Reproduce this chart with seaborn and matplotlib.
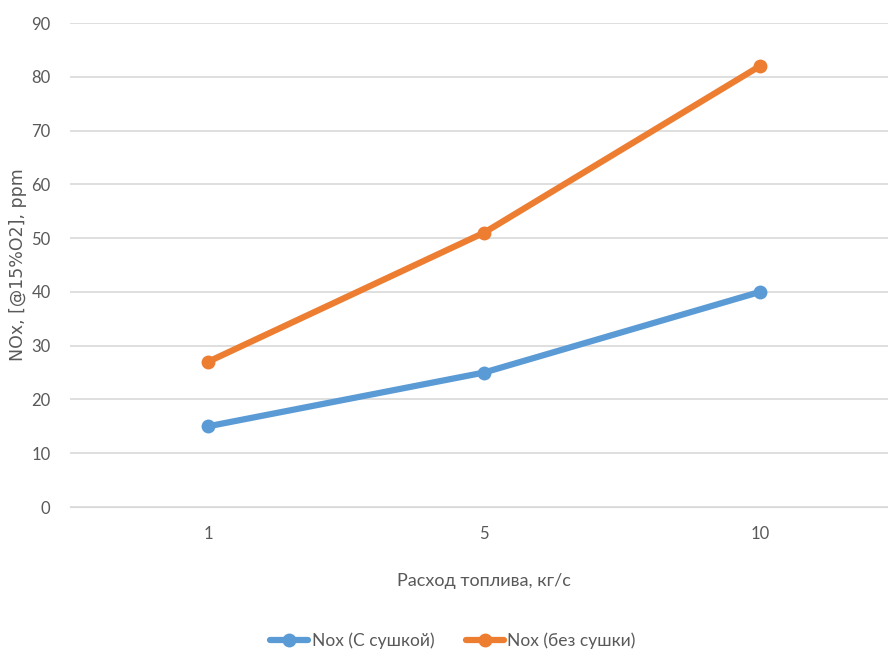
import pandas as pd
import matplotlib.pyplot as plt
import seaborn as sns

# Data
fuel_rate = ['1', '5', '10']
nox_dried = [15, 25, 40]
nox_wet = [27, 51, 82]
series_names = ['Nox (С сушкой)', 'Nox (без сушки)']

df = pd.DataFrame({
    'rate': fuel_rate * 2,
    'nox': nox_dried + nox_wet,
    'series': [series_names[0]] * 3 + [series_names[1]] * 3,
})

sns.set_style('white')
plt.rcParams['font.family'] = ['Lato', 'DejaVu Sans']
text_color = '#595959'

fig = plt.figure(figsize=(8.88, 6.53), dpi=100)
ax = fig.add_axes([70 / 888, 146 / 653, 828 / 888, 484 / 653])

palette = {series_names[0]: '#5B9BD5', series_names[1]: '#ED7D31'}
sns.lineplot(data=df, x='rate', y='nox', hue='series', palette=palette,
             marker='o', markersize=10, markeredgewidth=0, linewidth=4.5,
             sort=False, ax=ax)

ax.set_xlim(-0.5, 2.5)
ax.set_ylim(0, 90)
ax.set_yticks(range(0, 91, 10))
ax.yaxis.grid(True, color='#D9D9D9', linewidth=1.2)
ax.set_axisbelow(True)
for s in ax.spines.values():
    s.set_visible(False)
ax.spines['bottom'].set_visible(True)
ax.spines['bottom'].set_color('#D9D9D9')
ax.tick_params(axis='both', length=0, labelsize=12, labelcolor=text_color)
ax.tick_params(axis='y', pad=14)
ax.tick_params(axis='x', pad=14)

ax.set_xlabel('Расход топлива, кг/с', fontsize=13, color=text_color, labelpad=22)
ax.set_ylabel('NOx, [@15%O2], ppm', fontsize=12.5, color=text_color,
              family='DejaVu Sans')
ax.yaxis.set_label_coords(-52 / 828, 0.5)
ax.yaxis.label.set_verticalalignment('center')

handles, labels = ax.get_legend_handles_labels()
ax.get_legend().remove()
fig.legend(handles, labels, loc='center', bbox_to_anchor=(0.51, 1 - 641 / 653),
           ncol=2, frameon=False, fontsize=12.5, labelcolor=text_color,
           handlelength=2.2, columnspacing=1.8, handletextpad=0.2)

plt.savefig('out.png', dpi=100)
plt.close()
